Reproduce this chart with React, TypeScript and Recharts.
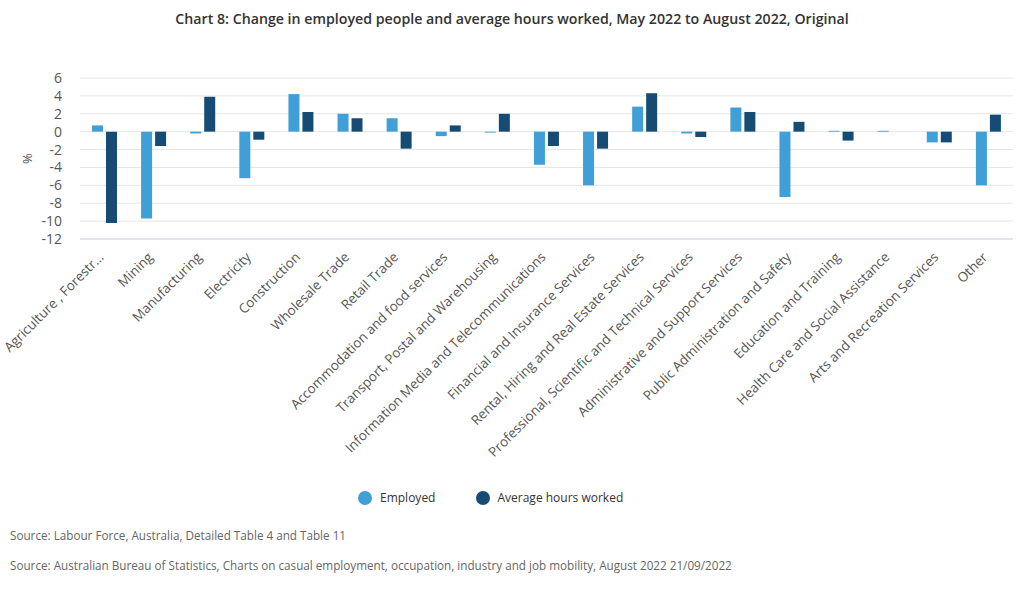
import React from 'react';
import { BarChart, Bar, XAxis, YAxis, CartesianGrid } from 'recharts';

const categories = [
  'Agriculture , Forestr...',
  'Mining',
  'Manufacturing',
  'Electricity',
  'Construction',
  'Wholesale Trade',
  'Retail Trade',
  'Accommodation and food services',
  'Transport, Postal and Warehousing',
  'Information Media and Telecommunications',
  'Financial and Insurance Services',
  'Rental, Hiring and Real Estate Services',
  'Professional, Scientific and Technical Services',
  'Administrative and Support Services',
  'Public Administration and Safety',
  'Education and Training',
  'Health Care and Social Assistance',
  'Arts and Recreation Services',
  'Other',
];

const employed = [0.7, -9.7, -0.2, -5.2, 4.2, 2.0, 1.5, -0.5, -0.1, -3.7, -6.0, 2.8, -0.2, 2.7, -7.3, 0.1, 0.1, -1.2, -6.0];
const hoursWorked = [-10.2, -1.6, 3.9, -0.9, 2.2, 1.5, -1.9, 0.7, 2.0, -1.6, -1.9, 4.3, -0.6, 2.2, 1.1, -1.0, 0.0, -1.2, 1.9];

const yTicks = [-12, -10, -8, -6, -4, -2, 0, 2, 4, 6];

const titleText = 'Chart 8: Change in employed people and average hours worked, May 2022 to August 2022, Original';
const source1 = 'Source: Labour Force, Australia, Detailed Table 4 and Table 11';
const source2 = 'Source: Australian Bureau of Statistics, Charts on casual employment, occupation, industry and job mobility, August 2022 21/09/2022';

const EMP_COLOR = '#3f9fd6';
const HRS_COLOR = '#164c74';
const FONT = '"Open Sans", "Noto Sans", sans-serif';

const data = categories.map((c, i) => ({ name: c, employed: employed[i], hours: hoursWorked[i] }));

const XTick = (props: any) => {
  const { x, y, payload } = props;
  const px = x;
  const py = y + 11;
  return (
    <text
      x={px}
      y={py}
      textAnchor="end"
      transform={`rotate(-45, ${px}, ${py})`}
      fill="#555"
      fontSize={13.4}
      fontFamily={FONT}
    >
      {payload.value}
    </text>
  );
};

const YLabel = (props: any) => {
  const vb = props.viewBox || {};
  const cx = 27;
  const cy = vb.y + vb.height / 2;
  return (
    <text x={cx} y={cy} transform={`rotate(-90, ${cx}, ${cy})`} textAnchor="middle" dominantBaseline="central" fill="#555" fontSize={13} fontFamily={FONT}>
      %
    </text>
  );
};

export default function App() {
  return (
    <div style={{ position: 'absolute', left: 0, top: 0, width: 1024, height: 590, background: '#fff', fontFamily: FONT }}>
      <div style={{ position: 'absolute', top: 9, left: 0, width: 1024, textAlign: 'center', fontSize: 14.2, fontWeight: 600, color: '#333' }}>
        {titleText}
      </div>
      <div style={{ position: 'absolute', left: 0, top: 0 }}>
        <BarChart
          width={1024}
          height={480}
          data={data}
          margin={{ top: 78, right: 11, left: 0, bottom: 0 }}
          barGap={3}
          barSize={11}
        >
          <CartesianGrid vertical={false} stroke="#e6e6e6" />
          <XAxis
            dataKey="name"
            interval={0}
            height={241}
            tickLine={false}
            axisLine={{ stroke: '#ccd6eb' }}
            tick={<XTick />}
          />
          <YAxis
            width={80}
            domain={[-12, 6]}
            ticks={yTicks}
            interval={0}
            tickLine={false}
            axisLine={false}
            tickSize={16}
            tick={{ fill: '#555', fontSize: 14, fontFamily: FONT }}
            label={<YLabel />}
          />
          <Bar dataKey="employed" fill={EMP_COLOR} isAnimationActive={false} />
          <Bar dataKey="hours" fill={HRS_COLOR} isAnimationActive={false} />
        </BarChart>
      </div>
      <div style={{ position: 'absolute', top: 489, left: 358, height: 17, display: 'flex', alignItems: 'center', fontSize: 12, color: '#333', whiteSpace: 'nowrap' }}>
        <span style={{ display: 'inline-block', width: 14, height: 14, borderRadius: 7, background: EMP_COLOR, marginRight: 8 }} />
        <span>Employed</span>
        <span style={{ display: 'inline-block', width: 14, height: 14, borderRadius: 7, background: HRS_COLOR, marginLeft: 41, marginRight: 7 }} />
        <span>Average hours worked</span>
      </div>
      <div style={{ position: 'absolute', top: 527, left: 10, fontSize: 11.7, color: '#666', whiteSpace: 'nowrap' }}>{source1}</div>
      <div style={{ position: 'absolute', top: 557, left: 10, fontSize: 11.7, color: '#666', whiteSpace: 'nowrap' }}>{source2}</div>
    </div>
  );
}
